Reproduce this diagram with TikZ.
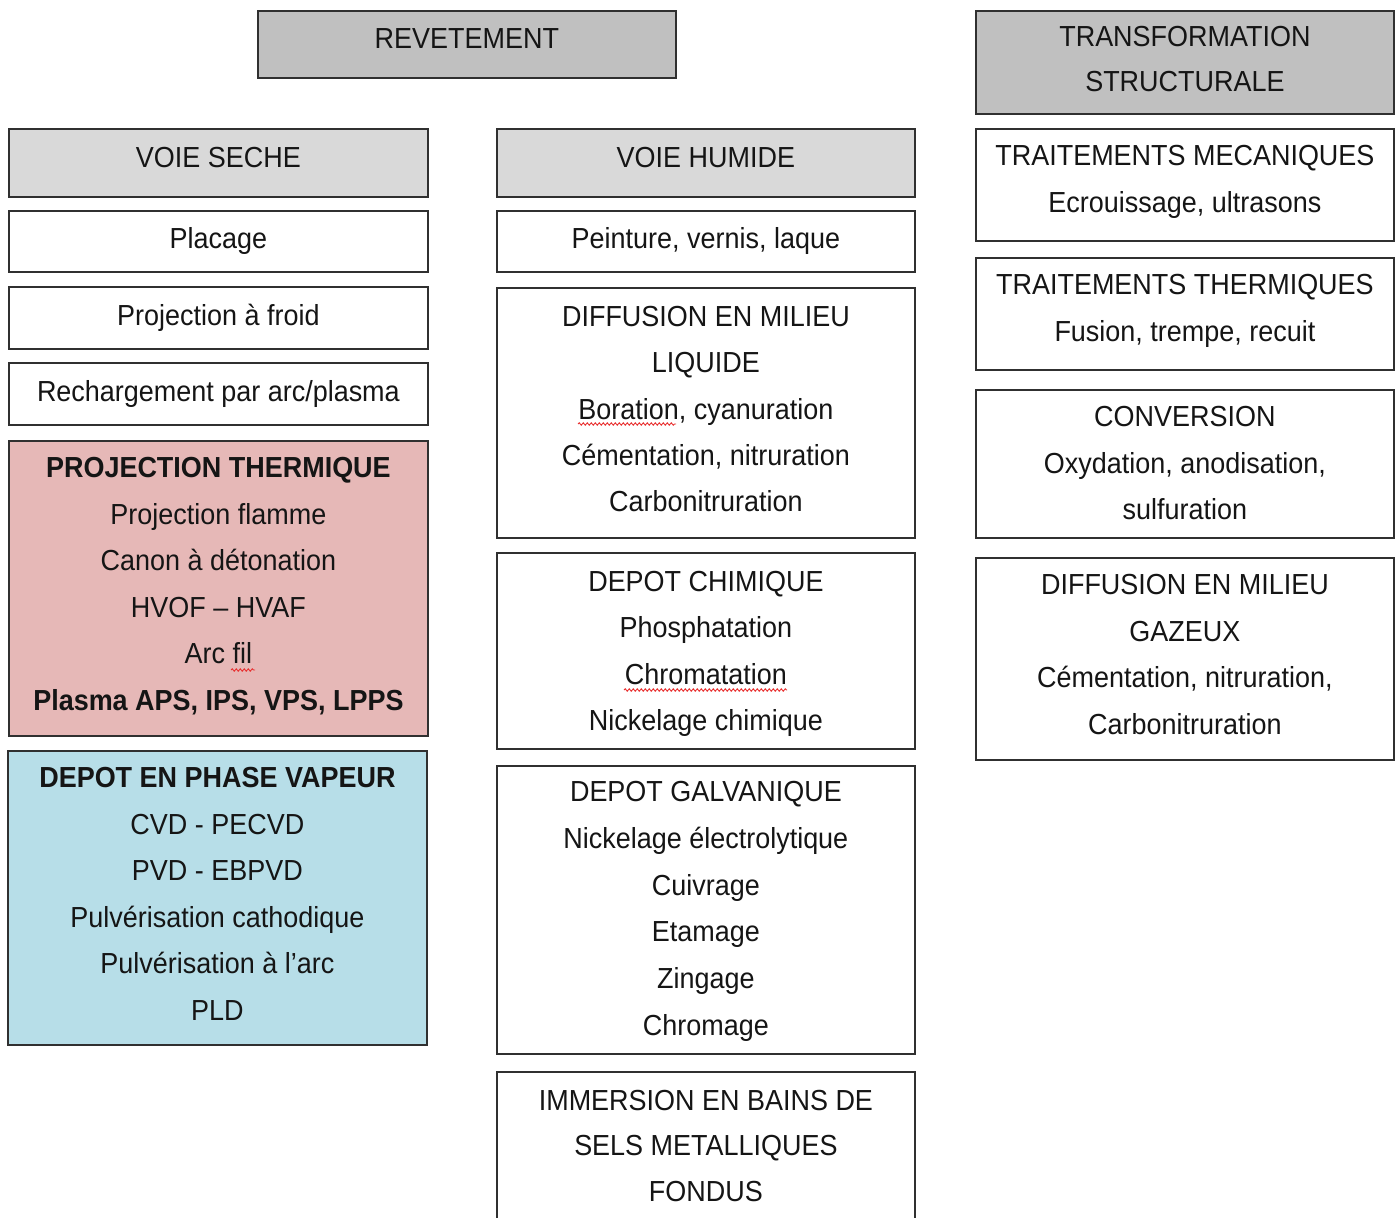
\documentclass[tikz,border=0pt]{standalone}
\usepackage{fontspec}
\usetikzlibrary{decorations.pathmorphing}
\setmainfont{Liberation Sans}[FakeStretch=0.93]
\definecolor{hdrdark}{HTML}{C0C0C0}
\definecolor{hdrlight}{HTML}{D9D9D9}
\definecolor{pinkfill}{HTML}{E6B8B7}
\definecolor{bluefill}{HTML}{B7DEE8}
\definecolor{edge}{HTML}{303030}
\definecolor{ink}{HTML}{151515}
\definecolor{spell}{HTML}{E83030}
\newcommand{\lnstrut}{\rule[-13pt]{0pt}{35pt}}
\tikzset{
  cbox/.style={draw=edge, line width=1.8pt, fill=white, inner sep=0pt, anchor=north west},
  ctext/.style={align=center, inner sep=0pt, anchor=north, text=ink,
    font=\fontsize{29}{46.5}\selectfont,
    execute at begin node=\lnstrut, execute at end node=\lnstrut},
  spellmark/.style={draw=spell, line width=0.9pt,
    decorate, decoration={snake, amplitude=1.2pt, segment length=4pt}},
}
\newcommand{\boxtext}[2]{\node[ctext] (#1-t) at ([yshift=-17.5pt]#1.north) {#2};}
\begin{document}
\begin{tikzpicture}[x=1pt,y=-1pt]
\useasboundingbox (0,0) rectangle (1398,1218);
\clip (0,0) rectangle (1398,1218);
% headers
\node[cbox, fill=hdrdark, minimum width=418pt, minimum height=67pt] (rev) at (257,10) {};
\node[ctext] (rev-t) at ([yshift=-16pt]rev.north) {REVETEMENT};
\node[cbox, fill=hdrdark, minimum width=418pt, minimum height=103pt] (trans) at (975,10) {};
\node[ctext, font=\fontsize{29}{45}\selectfont] (trans-t) at ([yshift=-16pt]trans.north) {TRANSFORMATION\\STRUCTURALE};
% voie seche column
\node[cbox, fill=hdrlight, minimum width=419pt, minimum height=68pt] (seche) at (8,128) {};
\boxtext{seche}{VOIE SECHE}
\node[cbox, minimum width=419pt, minimum height=61pt] (plac) at (8,210) {};
\node[ctext] (plac-t) at ([yshift=-16.5pt]plac.north) {Placage};
\node[cbox, minimum width=419pt, minimum height=62pt] (froid) at (8,286) {};
\boxtext{froid}{Projection à froid}
\node[cbox, minimum width=419pt, minimum height=62pt] (rech) at (8,362) {};
\boxtext{rech}{Rechargement par arc/plasma}
\node[cbox, fill=pinkfill, minimum width=419pt, minimum height=295pt] (therm) at (8,440) {};
\boxtext{therm}{\textbf{PROJECTION THERMIQUE}\\Projection flamme\\Canon à détonation\\HVOF – HVAF\\Arc fil\\\textbf{Plasma APS, IPS, VPS, LPPS}}
\node[cbox, fill=bluefill, minimum width=419pt, minimum height=294pt] (vap) at (7,750) {};
\boxtext{vap}{\textbf{DEPOT EN PHASE VAPEUR}\\CVD - PECVD\\PVD - EBPVD\\Pulvérisation cathodique\\Pulvérisation à l’arc\\PLD}
% voie humide column
\node[cbox, fill=hdrlight, minimum width=418pt, minimum height=68pt] (humide) at (496,128) {};
\boxtext{humide}{VOIE HUMIDE}
\node[cbox, minimum width=418pt, minimum height=61pt] (peint) at (496,210) {};
\node[ctext] (peint-t) at ([yshift=-16.5pt]peint.north) {Peinture, vernis, laque};
\node[cbox, minimum width=418pt, minimum height=250pt] (difliq) at (496,287) {};
\node[ctext, font=\fontsize{29}{46.3}\selectfont] (difliq-t) at ([yshift=-19pt]difliq.north) {DIFFUSION EN MILIEU\\LIQUIDE\\Boration, cyanuration\\Cémentation, nitruration\\Carbonitruration};
\node[cbox, minimum width=418pt, minimum height=196pt] (chim) at (496,552) {};
\node[ctext, font=\fontsize{29}{46.3}\selectfont] (chim-t) at ([yshift=-19pt]chim.north) {DEPOT CHIMIQUE\\Phosphatation\\Chromatation\\Nickelage chimique};
\node[cbox, minimum width=418pt, minimum height=288pt] (galv) at (496,765) {};
\node[ctext, font=\fontsize{29}{46.8}\selectfont] (galv-t) at ([yshift=-16pt]galv.north) {DEPOT GALVANIQUE\\Nickelage électrolytique\\Cuivrage\\Etamage\\Zingage\\Chromage};
\node[cbox, minimum width=418pt, minimum height=170pt] (imm) at (496,1071) {};
\node[ctext, font=\fontsize{29}{45.5}\selectfont] (imm-t) at ([yshift=-19pt]imm.north) {IMMERSION EN BAINS DE\\SELS METALLIQUES\\FONDUS};
% transformation column
\node[cbox, minimum width=418pt, minimum height=112pt] (meca) at (975,128) {};
\boxtext{meca}{TRAITEMENTS MECANIQUES\\Ecrouissage, ultrasons}
\node[cbox, minimum width=418pt, minimum height=112pt] (thermt) at (975,257) {};
\boxtext{thermt}{TRAITEMENTS THERMIQUES\\Fusion, trempe, recuit}
\node[cbox, minimum width=418pt, minimum height=148pt] (conv) at (975,389) {};
\boxtext{conv}{CONVERSION\\Oxydation, anodisation,\\sulfuration}
\node[cbox, minimum width=418pt, minimum height=202pt] (difgaz) at (975,557) {};
\boxtext{difgaz}{DIFFUSION EN MILIEU\\GAZEUX\\Cémentation, nitruration,\\Carbonitruration}
% spell-check wavy underlines
\path[spellmark] (578,424) -- (676,424);
\path[spellmark] (624,690) -- (787,690);
\path[spellmark] (231,670) -- (255,670);
\end{tikzpicture}
\end{document}
